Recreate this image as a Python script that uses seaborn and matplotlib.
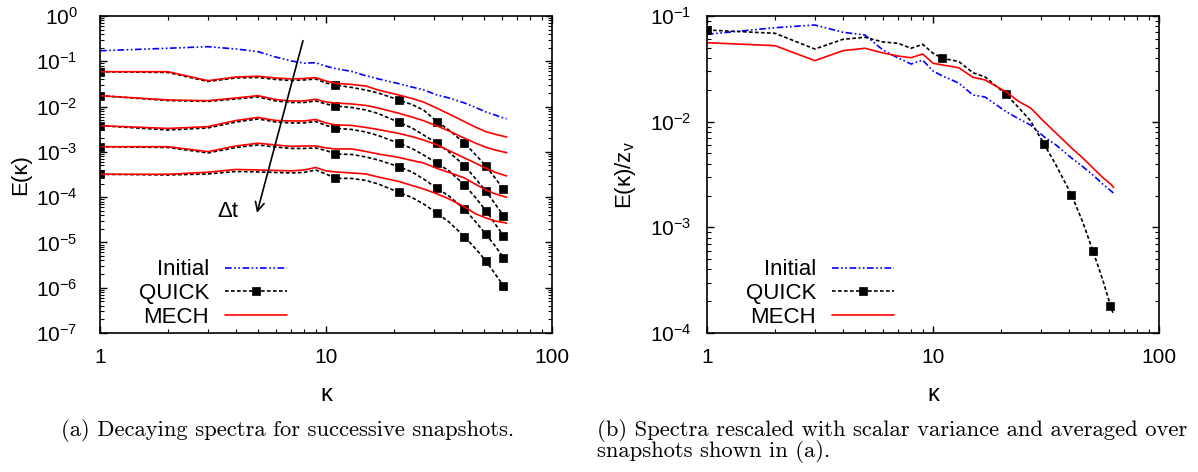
import matplotlib
matplotlib.use("Agg")
import matplotlib.pyplot as plt
import seaborn as sns
from matplotlib.lines import Line2D
from matplotlib.ticker import FixedLocator, LogLocator, NullFormatter

# ---------------- data ----------------
kappa = [1, 2, 3, 4, 5, 6, 7, 8, 9, 10, 11, 13, 15, 17, 21, 24, 27, 31, 35, 41, 46, 51, 56, 61, 63]
quick_marker_k = [1, 11, 21, 31, 41, 51, 61]

# (a) decaying spectra
initial_a = [0.171, 0.194, 0.210, 0.187, 0.163, 0.124, 0.102, 0.091, 0.093, 0.078, 0.069, 0.0596, 0.048,
             0.041, 0.032, 0.027, 0.0234, 0.018, 0.0155, 0.012, 0.0095, 0.0076, 0.0065, 0.0056, 0.0054]

quick_a1 = [5.89e-2, 5.66e-2, 3.58e-2, 4.28e-2, 4.39e-2, 3.96e-2, 3.77e-2, 3.87e-2, 4.07e-2, 3.32e-2, 3.00e-2,
            2.64e-2, 2.32e-2, 2.00e-2, 1.40e-2, 1.11e-2, 8.41e-3, 4.64e-3, 3.04e-3, 1.55e-3, 8.54e-4, 4.88e-4,
            2.65e-4, 1.49e-4, 1.24e-4]
quick_a2 = [1.74e-2, 1.36e-2, 1.30e-2, 1.47e-2, 1.63e-2, 1.33e-2, 1.23e-2, 1.23e-2, 1.33e-2, 1.14e-2, 1.03e-2,
            9.55e-3, 8.41e-3, 7.04e-3, 4.50e-3, 3.37e-3, 2.36e-3, 1.55e-3, 9.95e-4, 4.96e-4, 2.52e-4, 1.37e-4,
            7.08e-5, 3.91e-5, 3.30e-5]
quick_a3 = [3.79e-3, 3.04e-3, 3.37e-3, 4.57e-3, 5.32e-3, 4.57e-3, 4.35e-3, 4.35e-3, 4.69e-3, 3.83e-3, 3.32e-3,
            3.12e-3, 2.75e-3, 2.30e-3, 1.55e-3, 1.19e-3, 8.54e-4, 5.60e-4, 3.79e-4, 1.86e-4, 9.60e-5, 5.04e-5,
            2.56e-5, 1.41e-5, 1.14e-5]
quick_a4 = [1.30e-3, 1.25e-3, 9.46e-4, 1.25e-3, 1.42e-3, 1.28e-3, 1.19e-3, 1.19e-3, 1.22e-3, 1.07e-3, 8.99e-4,
            8.76e-4, 7.72e-4, 6.63e-4, 4.71e-4, 3.60e-4, 2.52e-4, 1.57e-4, 1.06e-4, 5.41e-5, 2.83e-5, 1.52e-5,
            8.37e-6, 4.62e-6, 3.71e-6]
quick_a5 = [3.20e-4, 3.09e-4, 3.25e-4, 3.69e-4, 3.60e-4, 3.51e-4, 3.42e-4, 3.51e-4, 3.98e-4, 3.25e-4, 2.61e-4,
            2.59e-4, 2.34e-4, 1.96e-4, 1.28e-4, 9.85e-5, 7.08e-5, 4.41e-5, 2.83e-5, 1.34e-5, 7.19e-6, 3.91e-6,
            2.02e-6, 1.10e-6, 8.50e-7]

mech_a1 = [5.89e-2, 5.89e-2, 3.73e-2, 4.50e-2, 4.67e-2, 4.28e-2, 4.07e-2, 4.17e-2, 4.35e-2, 3.67e-2, 3.27e-2,
           3.08e-2, 2.85e-2, 2.32e-2, 1.80e-2, 1.51e-2, 1.26e-2, 9.17e-3, 6.87e-3, 4.64e-3, 3.49e-3, 2.79e-3,
           2.45e-3, 2.21e-3, 2.13e-3]
mech_a2 = [1.74e-2, 1.40e-2, 1.35e-2, 1.55e-2, 1.74e-2, 1.43e-2, 1.33e-2, 1.33e-2, 1.45e-2, 1.26e-2, 1.20e-2,
           1.14e-2, 1.06e-2, 9.31e-3, 7.11e-3, 5.89e-3, 4.88e-3, 3.73e-3, 2.89e-3, 2.00e-3, 1.55e-3, 1.26e-3,
           1.10e-3, 9.95e-4, 9.60e-4]
mech_a3 = [3.79e-3, 3.29e-3, 3.60e-3, 4.93e-3, 5.75e-3, 4.93e-3, 4.81e-3, 4.81e-3, 5.19e-3, 4.35e-3, 3.93e-3,
           3.83e-3, 3.46e-3, 3.12e-3, 2.55e-3, 2.17e-3, 1.83e-3, 1.42e-3, 1.07e-3, 7.33e-4, 5.60e-4, 4.35e-4,
           3.55e-4, 3.09e-4, 2.94e-4]
mech_a4 = [1.30e-3, 1.30e-3, 1.01e-3, 1.35e-3, 1.55e-3, 1.42e-3, 1.32e-3, 1.35e-3, 1.35e-3, 1.22e-3, 1.16e-3,
           1.16e-3, 1.02e-3, 8.99e-4, 7.52e-4, 6.46e-4, 5.69e-4, 4.30e-4, 3.51e-4, 2.65e-4, 1.91e-4, 1.44e-4,
           1.18e-4, 1.04e-4, 9.95e-5]
mech_a5 = [3.20e-4, 3.20e-4, 3.55e-4, 4.09e-4, 3.98e-4, 3.89e-4, 3.79e-4, 3.98e-4, 4.52e-4, 3.79e-4, 3.60e-4,
           3.42e-4, 3.25e-4, 2.79e-4, 2.22e-4, 1.81e-4, 1.52e-4, 1.18e-4, 9.13e-5, 6.08e-5, 4.26e-5, 3.47e-5,
           2.98e-5, 2.76e-5, 2.65e-5]

quick_a = [quick_a1, quick_a2, quick_a3, quick_a4, quick_a5]
mech_a = [mech_a1, mech_a2, mech_a3, mech_a4, mech_a5]

# (b) rescaled, averaged spectra
initial_b = [0.0671, 0.0775, 0.0822, 0.0701, 0.0661, 0.0477, 0.0401, 0.0351, 0.0383, 0.0302, 0.0271, 0.0232,
             0.0179, 0.0171, 0.0125, 0.0106, 9.31e-3, 7.21e-3, 6.02e-3, 4.53e-3, 3.75e-3, 3.13e-3, 2.60e-3,
             2.23e-3, 2.10e-3]
quick_b = [0.0737, 0.0686, 0.0487, 0.0602, 0.0629, 0.0568, 0.0552, 0.0495, 0.0540, 0.0444, 0.0398, 0.0371,
           0.0291, 0.0265, 0.0182, 0.0135, 0.0102, 6.15e-3, 3.89e-3, 2.03e-3, 1.12e-3, 5.98e-4, 3.32e-4,
           1.82e-4, 1.48e-4]
mech_b = [0.0559, 0.0524, 0.0378, 0.0470, 0.0495, 0.0447, 0.0418, 0.0403, 0.0437, 0.0357, 0.0344, 0.0324,
          0.0263, 0.0248, 0.0192, 0.0155, 0.0135, 1.00e-2, 7.82e-3, 5.64e-3, 4.53e-3, 3.65e-3, 3.00e-3,
          2.57e-3, 2.39e-3]

legend_labels = ["Initial", "QUICK", "MECH"]
x_ticks = [1, 10, 100]
x_tick_labels = ["1", "10", "100"]
ya_ticks = [1e-7, 1e-6, 1e-5, 1e-4, 1e-3, 1e-2, 1e-1, 1e0]
ya_tick_labels = [r"$\mathregular{10^{-7}}$", r"$\mathregular{10^{-6}}$", r"$\mathregular{10^{-5}}$",
                  r"$\mathregular{10^{-4}}$", r"$\mathregular{10^{-3}}$", r"$\mathregular{10^{-2}}$",
                  r"$\mathregular{10^{-1}}$", r"$\mathregular{10^{0}}$"]
yb_ticks = [1e-4, 1e-3, 1e-2, 1e-1]
yb_tick_labels = [r"$\mathregular{10^{-4}}$", r"$\mathregular{10^{-3}}$", r"$\mathregular{10^{-2}}$",
                  r"$\mathregular{10^{-1}}$"]
xlabel = "κ"
ylabel_a = "E(κ)"
ylabel_b = r"E(κ)/z$_\mathregular{v}$"
arrow_label = "Δt"
caption_a = "(a) Decaying spectra for successive snapshots."
caption_b1 = "(b) Spectra rescaled with scalar variance and averaged over"
caption_b2 = "snapshots shown in (a)."

# ---------------- style ----------------
sns.set_style("white")
plt.rcParams["font.family"] = ["Liberation Sans", "DejaVu Sans"]
plt.rcParams["mathtext.fontset"] = "custom"
plt.rcParams["mathtext.rm"] = "Liberation Sans"
plt.rcParams["mathtext.it"] = "Liberation Sans:italic"
plt.rcParams["mathtext.bf"] = "Liberation Sans:bold"
for key in ("text.color", "axes.labelcolor", "xtick.color", "ytick.color", "axes.edgecolor"):
    plt.rcParams[key] = "black"

BLUE = "#0000ff"
RED = "#ff0000"
LW = 1.2
initial_style = dict(color=BLUE, lw=LW, linestyle=(0, (4, 1.5, 1, 1.5, 1, 1.5)))
quick_style = dict(color="black", lw=LW, linestyle=(0, (2.2, 1.4)), marker="s", markersize=5.5,
                   markeredgecolor="black", markerfacecolor="black", markeredgewidth=0.5)
mech_style = dict(color=RED, lw=LW, linestyle="-")

W, H = 1198, 472
fig = plt.figure(figsize=(W / 100, H / 100), dpi=100)
axA = fig.add_axes([100 / W, 1 - 333 / H, 452 / W, 317 / H])
axB = fig.add_axes([707 / W, 1 - 333 / H, 452 / W, 317 / H])

mark_idx = [kappa.index(k) for k in quick_marker_k]


def draw(ax, y, style, markers=False):
    kws = dict(style)
    if markers:
        kws["markevery"] = mark_idx
    sns.lineplot(x=kappa, y=y, ax=ax, estimator=None, errorbar=None, sort=False, legend=False, **kws)


# panel (a)
draw(axA, initial_a, initial_style)
for q in quick_a:
    draw(axA, q, quick_style, markers=True)
for m in mech_a:
    draw(axA, m, mech_style)

# panel (b)
draw(axB, initial_b, initial_style)
draw(axB, quick_b, quick_style, markers=True)
draw(axB, mech_b, mech_style)


def style_axes(ax, ylim, yticks, ylabels, ypad):
    ax.set_xscale("log")
    ax.set_yscale("log")
    ax.set_xlim(1, 100)
    ax.set_ylim(*ylim)
    ax.xaxis.set_major_locator(FixedLocator(x_ticks))
    ax.set_xticklabels(x_tick_labels)
    ax.xaxis.set_minor_locator(LogLocator(base=10, subs=range(2, 10), numticks=30))
    ax.xaxis.set_minor_formatter(NullFormatter())
    ax.yaxis.set_major_locator(FixedLocator(yticks))
    ax.set_yticklabels(ylabels)
    ax.yaxis.set_minor_locator(LogLocator(base=10, subs=range(2, 10), numticks=30))
    ax.yaxis.set_minor_formatter(NullFormatter())
    ax.tick_params(which="both", direction="in", top=True, right=True, left=True, bottom=True,
                   color="black", labelcolor="black")
    ax.tick_params(which="major", length=5, width=1.0)
    ax.tick_params(which="minor", length=3, width=0.8)
    ax.tick_params(axis="x", which="major", pad=11, labelsize=15)
    ax.tick_params(axis="y", which="major", pad=ypad, labelsize=15)
    for s in ax.spines.values():
        s.set_linewidth(1.2)
        s.set_color("black")
        s.set_visible(True)
    ax.grid(False)


style_axes(axA, (1e-7, 1e0), ya_ticks, ya_tick_labels, 16)
style_axes(axB, (1e-4, 1e-1), yb_ticks, yb_tick_labels, 11)

for ax, yl in ((axA, ylabel_a), (axB, ylabel_b)):
    ax.set_xlabel(xlabel, fontsize=17)
    ax.xaxis.set_label_coords(0.5, -0.16)
    ax.set_ylabel(yl, fontsize=16)
    ax.yaxis.set_label_coords(-0.152, 0.5)

# legends
handles = [Line2D([], [], **initial_style),
           Line2D([], [], **quick_style),
           Line2D([], [], **mech_style)]
for ax in (axA, axB):
    ax.legend(handles, legend_labels, loc="upper right", bbox_to_anchor=(0.4137, 0.232),
              frameon=False, markerfirst=False, fontsize=16, handlelength=2.8, handletextpad=0.7,
              labelspacing=0.12, borderpad=0, borderaxespad=0, numpoints=1)

# arrow and label
axA.annotate("", xy=(4.95, 4.5e-5), xytext=(7.91, 0.285),
             arrowprops=dict(arrowstyle="->", lw=1.2, color="black", shrinkA=0, shrinkB=0,
                             mutation_scale=16))
axA.text(3.67, 4.7e-5, arrow_label, fontsize=16, ha="center", va="center")

# captions
fig.text(61 / W, 1 - 436 / H, caption_a, family="cmr10", fontsize=16.3, va="baseline")
fig.text(597 / W, 1 - 436 / H, caption_b1, family="cmr10", fontsize=16.3, va="baseline")
fig.text(597 / W, 1 - 457 / H, caption_b2, family="cmr10", fontsize=16.3, va="baseline")

fig.savefig("out.png", dpi=100)
